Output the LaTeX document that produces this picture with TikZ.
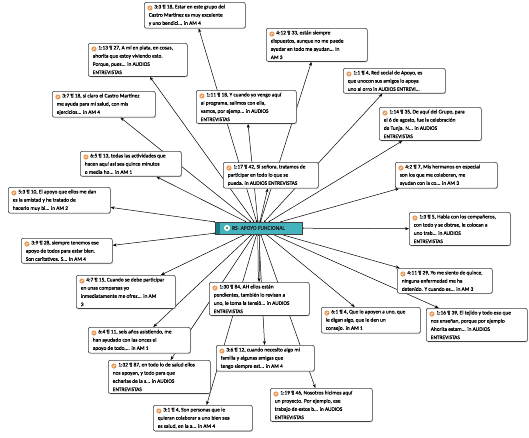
\documentclass[tikz,border=0pt]{standalone}
\usepackage{fontspec}
\setmainfont{Carlito}
\newfontfamily\quotefont{Carlito}[FakeBold=0.5]
\usetikzlibrary{arrows.meta, shadows, backgrounds}
\definecolor{hubfill}{HTML}{45B3BD}
\definecolor{hubdark}{HTML}{1B7A83}
\definecolor{quoteicon}{HTML}{E89B5A}
\definecolor{boxline}{HTML}{404040}

\begin{document}
\begin{tikzpicture}[x=1pt, y=-1pt, >={Stealth[length=4pt,width=3pt]},
  every node/.style={font=\quotefont\fontsize{5.4}{8.2}\selectfont},
  quote/.style={draw=boxline, fill=white, rounded corners=2pt, line width=0.6pt,
    anchor=north west, align=flush left, inner xsep=4.5pt, inner ysep=2.4pt, text=black,
    drop shadow={shadow xshift=0.8pt, shadow yshift=-0.9pt, fill=black!35},
    path picture={
      \fill[quoteicon] ([xshift=5.6pt,yshift=-5.7pt]path picture bounding box.north west) circle (2.6pt);
      \draw[white, line width=0.5pt] ([xshift=4.6pt,yshift=-6.6pt]path picture bounding box.north west) -- ++(1.8pt,1.8pt);}},
  hub/.style={draw=black!75, fill=hubfill, minimum width=87pt, minimum height=12pt, inner sep=0pt,
    font=\quotefont\fontsize{5.6}{6}\selectfont, text=black!85,
    path picture={
      \fill[hubdark] (path picture bounding box.north west) rectangle ([xshift=5pt]path picture bounding box.south west);
      \fill[white] ([xshift=12pt]path picture bounding box.west) circle (3pt);
      \fill[green!45!black!75] ([xshift=12pt]path picture bounding box.west) circle (1.4pt);}},
  link/.style={{Circle[length=1.4pt]}->, line width=0.5pt}]
\useasboundingbox (0,0) rectangle (529,437);

\node[hub] (hub) at (258.5,228) {RS- APOYO FUNCIONAL};

% upper half
\node[quote, text width=92pt] (q33) at (144,2) {\hspace*{5.5pt}3:3 ¶ 18, Estar en este grupo del\\Castro Martínez es muy excelente\\y uno bendici... in AM 4};
\node[quote, text width=90pt] (q113) at (88,43) {\hspace*{5.5pt}1:13 ¶ 27, A mí en plata, en cosas,\\ahorita que estoy viviendo esto.\\Porque, pues... in AUDIOS\\ENTREVISTAS};
\node[quote, text width=94pt] (q37) at (52,91) {\hspace*{5.5pt}3:7 ¶ 18, si claro el Castro Martínez\\me ayuda para mi salud, con mis\\ejercicios... in AM 4};
\node[quote, text width=92pt] (q412) at (266,28) {\hspace*{5.5pt}4:12 ¶ 33, están siempre\\dispuestos, aunque no me puede\\ayudar en todo me ayudan... in\\AM 3};
\node[quote, text width=91pt] (q111) at (196,90) {\hspace*{5.5pt}1:11 ¶ 18, Y cuando yo vengo aquí\\al programa, salimos con ella,\\vamos, por ejemp... in AUDIOS\\ENTREVISTAS};
\node[quote, text width=93pt] (q11) at (343,68) {\hspace*{5.5pt}1:1 ¶ 4, Red social de Apoyo, es\\que unocon sus amigos lo apoya\\uno al orro in AUDIOS ENTREVI...};
\node[quote, text width=93pt] (q114) at (379,107) {\hspace*{5.5pt}1:14 ¶ 35, De aquí del Grupo, para\\el 6 de agosto, fue la celebración\\de Tunja. N... in AUDIOS\\ENTREVISTAS};
\node[quote, text width=93pt] (q42) at (395,162) {\hspace*{5.5pt}4:2 ¶ 7, Mis hermanos en especial\\son los que me colaboran, me\\ayudan con la co... in AM 3};
\node[quote, text width=92pt] (q65) at (80,151) {\hspace*{5.5pt}6:5 ¶ 13, todas las actividades que\\hacen aquí así sea quince minutos\\o media ho... in AM 1};
\node[quote, text width=86pt] (q117) at (223,162) {\hspace*{5.5pt}1:17 ¶ 42, Si señora, tratamos de\\participar en todo lo que se\\pueda. in AUDIOS ENTREVISTAS};
\node[quote, text width=93pt] (q53) at (8,187) {\hspace*{5.5pt}5:3 ¶ 10, El apoyo que ellos me dan\\es la amistad y he tratado de\\hacerlo muy bi... in AM 2};

% lower half
\node[quote, text width=92pt] (q13) at (409,212) {\hspace*{5.5pt}1:3 ¶ 5, Habla con los compañeros,\\con todo y se distrae, le colocan a\\uno trab... in AUDIOS\\ENTREVISTAS};
\node[quote, text width=82pt] (q39) at (21,238) {\hspace*{5.5pt}3:9 ¶ 28, siempre tenemos ese\\apoyo de todos para estar bien.\\Son caritativos. S... in AM 4};
\node[quote, text width=90pt] (q47) at (76,275) {\hspace*{5.5pt}4:7 ¶ 15, Cuando se debe participar\\en unas comparsas yo\\inmediatamente me ofrez... in AM\\3};
\node[quote, text width=86pt] (q411) at (397,268) {\hspace*{5.5pt}4:11 ¶ 29, Yo me siento de quince,\\ninguna enfermedad me ha\\detenido. Y cuando es... in AM 3};
\node[quote, text width=91pt] (q130) at (209,282) {\hspace*{5.5pt}1:30 ¶ 84, AH ellos están\\pendientes, también lo revisan a\\uno, le toma la tensió... in AUDIOS\\ENTREVISTAS};
\node[quote, text width=90pt] (q61) at (321,307) {\hspace*{5.5pt}6:1 ¶ 4, Que lo apoyen a uno, que\\le digan algo, que le den un\\consejo. in AM 1};
\node[quote, text width=92pt] (q116) at (426,308) {\hspace*{5.5pt}1:16 ¶ 39, El tejido y todo eso que\\nos enseñan, porque por ejemplo\\Ahorita estam... in AUDIOS\\ENTREVISTAS};
\node[quote, text width=93pt] (q64) at (88,327) {\hspace*{5.5pt}6:4 ¶ 11, seis años asistiendo, me\\han ayudado con las onces el\\apoyo de todo,... in AM 1};
\node[quote, text width=93pt] (q132) at (108,360) {\hspace*{5.5pt}1:32 ¶ 87, en todo lo de salud ellos\\nos apoyan, y todo para que\\echarlas de la s... in AUDIOS\\ENTREVISTAS};
\node[quote, text width=89pt] (q36) at (216,345) {\hspace*{5.5pt}3:6 ¶ 12, cuando necesito algo mi\\familia y algunas amigas que\\tengo siempre est... in AM 4};
\node[quote, text width=93pt] (q119) at (270,388) {\hspace*{5.5pt}1:19 ¶ 46, Nosotros hicimos aquí\\un proyecto. Por ejemplo, ese\\trabajo de estos b... in AUDIOS\\ENTREVISTAS};
\node[quote, text width=90pt] (q31) at (153,405) {\hspace*{5.5pt}3:1 ¶ 4, Son personas que le\\quieran colaborar a uno bien sea\\es salud, en la a... in AM 4};

% links behind the boxes
\begin{pgfonlayer}{background}
\foreach \q in {q33,q113,q37,q412,q111,q11,q114,q42,q65,q117,q53,
                q13,q39,q47,q411,q61,q116,q64,q132,q36,q119,q31}
  \draw[link] (hub) -- (\q);
\draw[link, double distance=1pt] (hub) -- (q130);
\end{pgfonlayer}
\end{tikzpicture}
\end{document}
